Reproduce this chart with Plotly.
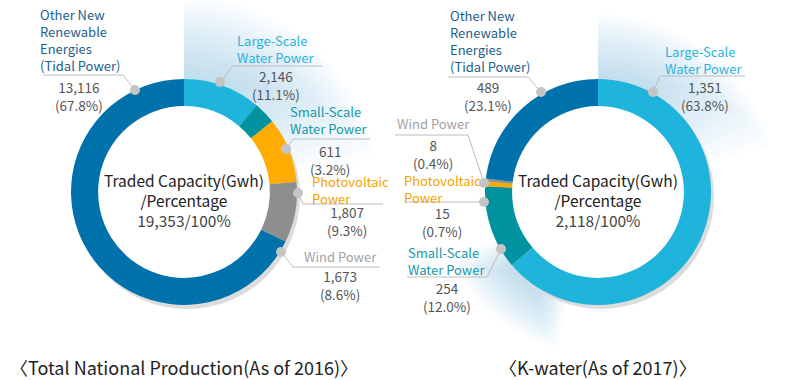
import math
import plotly.graph_objects as go

# ---------------- data ----------------
categories = ["Large-Scale Water Power", "Small-Scale Water Power", "Photovoltaic Power",
              "Wind Power", "Other New Renewable Energies (Tidal Power)"]
national_2016 = [2146, 611, 1807, 1673, 13116]
national_pct = ["11.1%", "3.2%", "9.3%", "8.6%", "67.8%"]
kwater_2017 = [1351, 254, 15, 8, 489]
kwater_pct = ["63.8%", "12.0%", "0.7%", "0.4%", "23.1%"]
totals = ["19,353/100%", "2,118/100%"]
chart_titles = ["〈Total National Production(As of 2016)〉", "〈K-water(As of 2017)〉"]
name_lines = [["Large-Scale", "Water Power"], ["Small-Scale", "Water Power"],
              ["Photovoltaic", "Power"], ["Wind Power"],
              ["Other New", "Renewable", "Energies", "(Tidal Power)"]]

# ---------------- style ----------------
W, H = 795, 380
FONT = "Noto Sans CJK KR"
slice_colors = ["#1fb4dc", "#00929e", "#ffab00", "#8e8e8e", "#0072ab"]
name_colors = ["#2ab3dc", "#1797a6", "#f5a300", "#a3a3a3", "#1d5f8c"]
value_color = "#555555"
R_OUT = 113
HOLE = 0.76
centers = [(184, 192), (598, 192)]

layouts = [
    [  # national
        dict(nx=235, ny=41, vx=276, vy=77, line=[(322, 66), (233, 66), (220, 82)]),
        dict(nx=288, ny=112, vx=330, vy=152, line=[(370, 139), (293, 139), (286, 149)]),
        dict(nx=310, ny=182, vx=347, vy=213, line=[(383, 204), (303, 204), (298, 193)]),
        dict(nx=302, ny=256, vx=340, vy=277, line=[(380, 267), (293, 267), (281, 252)]),
        dict(nx=38, ny=16, vx=79, vy=88, line=[(43, 75), (123, 75), (135, 90)]),
    ],
    [  # k-water
        dict(nx=663, ny=52, vx=705, vy=88, line=[(745, 76), (660, 76), (653, 92)]),
        dict(nx=406, ny=253, vx=447, vy=289, line=[(407, 277), (487, 277), (501, 249)]),
        dict(nx=402, ny=181, vx=442, vy=214, line=[(405, 202), (484, 202)]),
        dict(nx=395, ny=123, vx=433, vy=146, line=[(395, 135), (468, 135), (484, 183)]),
        dict(nx=448, ny=17, vx=488, vy=88, line=[(448, 77), (528, 77), (541, 92)]),
    ],
]
glows = [  # (center index, start deg, end deg, max radius)
    (0, 0, 80, 195),
    (1, 0, 75, 178),
    (1, 195, 245, 162),
]
NAME_STEP, VALUE_STEP = 15.7, 15.5


def dom(cx, cy, r, dx=0, dy=0):
    return dict(x=[(cx - r + dx) / W, (cx + r + dx) / W],
                y=[1 - (cy + r + dy) / H, 1 - (cy - r + dy) / H])


def sector_path(cx, cy, r0, r1, a0, a1, n=40):
    pts = []
    for i in range(n + 1):
        a = math.radians(a0 + (a1 - a0) * i / n)
        pts.append((cx + r1 * math.sin(a), cy - r1 * math.cos(a)))
    for i in range(n, -1, -1):
        a = math.radians(a0 + (a1 - a0) * i / n)
        pts.append((cx + r0 * math.sin(a), cy - r0 * math.cos(a)))
    return "M " + " L ".join(f"{x:.1f},{y:.1f}" for x, y in pts) + " Z"


fig = go.Figure()
shapes = []
annotations = []

for ci, a0, a1, rmax in glows:
    cx, cy = centers[ci]
    steps = 18
    mid = (a0 + a1) / 2
    for k in range(steps):
        f = k / steps
        r1 = rmax - (rmax - R_OUT) * f
        if a0 == 0:
            s0, s1 = a0, a1 - (a1 - a0) * f * 0.7
        else:
            half = (a1 - a0) / 2 * (1 - f * 0.7)
            s0, s1 = mid - half, mid + half
        shapes.append(dict(type="path", path=sector_path(cx, cy, R_OUT - 5, r1, s0, s1),
                           fillcolor="rgba(135,212,234,0.035)", line=dict(width=0),
                           layer="below", xref="x", yref="y"))

datasets = [national_2016, kwater_2017]
pcts = [national_pct, kwater_pct]
for ci, (vals, pct) in enumerate(zip(datasets, pcts)):
    cx, cy = centers[ci]
    fig.add_trace(go.Pie(values=[sum(vals)], hole=0.80, sort=False,
                         marker=dict(colors=["#dcdcdc"], line=dict(width=0)),
                         textinfo="none", hoverinfo="skip", showlegend=False,
                         domain=dom(cx, cy, R_OUT, 3, 4)))
    fig.add_trace(go.Pie(labels=categories, values=vals, hole=HOLE, sort=False,
                         direction="clockwise", rotation=0,
                         marker=dict(colors=slice_colors, line=dict(width=0)),
                         textinfo="none", showlegend=False,
                         domain=dom(cx, cy, R_OUT)))
    for si, lay in enumerate(layouts[ci]):
        nl = name_lines[si]
        annotations.append(dict(x=lay["nx"], y=lay["ny"] + (len(nl) - 1) * NAME_STEP / 2,
                                text="<br>".join(nl), align="left",
                                xanchor="left", yanchor="middle", showarrow=False,
                                font=dict(family=FONT, size=13, color=name_colors[si])))
        annotations.append(dict(x=lay["vx"], y=lay["vy"] + VALUE_STEP / 2,
                                text=f"{vals[si]:,}<br>({pct[si]})", align="center",
                                xanchor="center", yanchor="middle", showarrow=False,
                                font=dict(family=FONT, size=13.5, color=value_color)))
        pts = lay["line"]
        path = "M " + " L ".join(f"{x},{y}" for x, y in pts)
        shapes.append(dict(type="path", path=path, line=dict(color="#bdbdbd", width=1),
                           xref="x", yref="y"))
        dx, dy = pts[-1]
        shapes.append(dict(type="circle", x0=dx - 5, x1=dx + 5, y0=dy - 5, y1=dy + 5,
                           fillcolor="#c4c4c4", line=dict(width=0), xref="x", yref="y"))
    annotations.append(dict(x=cx, y=200,
                            text=("Traded Capacity(Gwh)<br>/Percentage<br>"
                                  f"<span style='color:#444444'>{totals[ci]}</span>"),
                            showarrow=False, align="center",
                            xanchor="center", yanchor="middle",
                            font=dict(family=FONT, size=15.5, color="#222222")))
    annotations.append(dict(x=cx, y=367, text=chart_titles[ci], showarrow=False,
                            xanchor="center", yanchor="middle",
                            font=dict(family=FONT, size=18, color="#222222")))

fig.update_layout(
    width=W, height=H, margin=dict(l=0, r=0, t=0, b=0),
    paper_bgcolor="white", plot_bgcolor="rgba(0,0,0,0)",
    xaxis=dict(range=[0, W], visible=False, fixedrange=True),
    yaxis=dict(range=[H, 0], visible=False, fixedrange=True),
    shapes=shapes, annotations=annotations, showlegend=False,
)
fig.write_html("out.html", post_script="document.body.style.margin='0';",
               config={"displayModeBar": False})
